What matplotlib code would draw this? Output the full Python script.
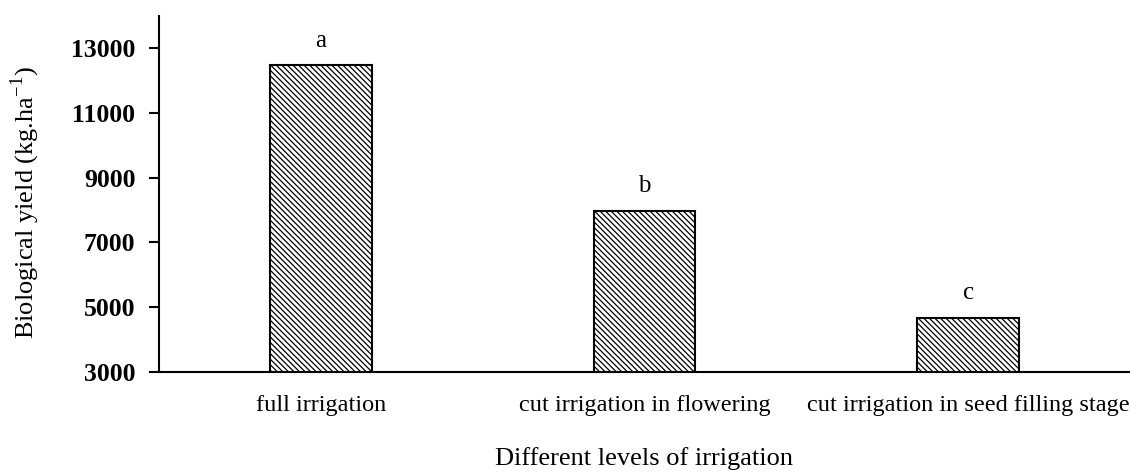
import matplotlib
matplotlib.use("Agg")
import matplotlib.pyplot as plt
import numpy as np

# données
categories = ["full irrigation", "cut irrigation in flowering", "cut irrigation in seed filling stage"]
rendement = [12480, 7980, 4670]
lettres = ["a", "b", "c"]
yticks = [3000, 5000, 7000, 9000, 11000, 13000]

plt.rcParams["font.family"] = ["Liberation Serif", "DejaVu Serif"]
plt.rcParams["hatch.linewidth"] = 0.9

fig = plt.figure(figsize=(11.3, 4.73), dpi=100)
ax = fig.add_axes([0.1407, 0.214, 0.8593, 0.752])

x = np.arange(len(categories))
ax.bar(x, rendement, width=0.315, bottom=0, color="white", edgecolor="black",
       linewidth=1.5, hatch="\\\\\\\\\\\\")

for xi, yi, l in zip(x, rendement, lettres):
    ax.text(xi, yi + 420, l, ha="center", va="bottom", fontsize=18)

ax.set_xlim(-0.5, 2.5)
ax.set_ylim(3000, 14000)
ax.set_yticks(yticks)
ax.set_yticklabels([str(v) for v in yticks], fontsize=18.5, fontweight="bold")
ax.set_xticks(x)
ax.set_xticklabels(categories, fontsize=17.5)
ax.tick_params(axis="x", length=0, pad=17)
ax.tick_params(axis="y", direction="out", length=7, width=1.5, pad=10)

for s in ["top", "right"]:
    ax.spines[s].set_visible(False)
for s in ["left", "bottom"]:
    ax.spines[s].set_linewidth(1.5)

ax.set_ylabel("Biological yield (kg.ha$^{\\mathregular{-1}}$)", fontsize=19)
ax.yaxis.set_label_coords(-0.12, 0.475)
ax.set_xlabel("Different levels of irrigation", fontsize=19, labelpad=22)

fig.savefig("out.png", dpi=100)
